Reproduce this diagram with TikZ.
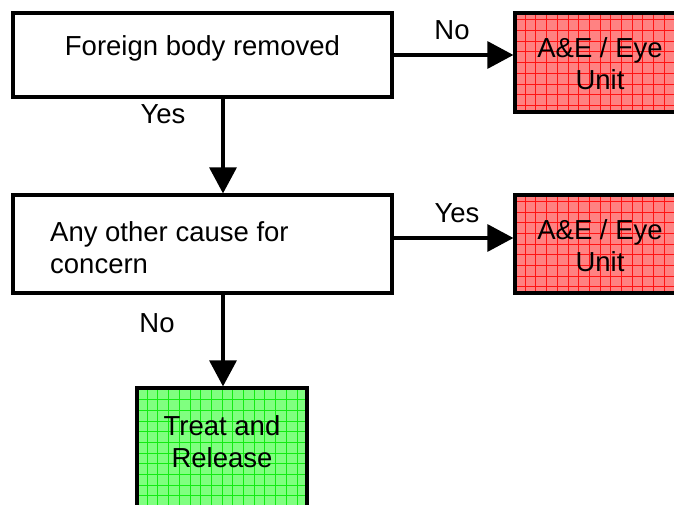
\documentclass[tikz,border=0pt]{standalone}
\usepackage{fontspec}
\setmainfont{Liberation Sans}
\usetikzlibrary{arrows.meta}
\definecolor{redfill}{RGB}{255,130,130}
\definecolor{redgrid}{RGB}{255,20,20}
\definecolor{greenfill}{RGB}{128,255,128}
\definecolor{greengrid}{RGB}{20,235,20}
\tikzset{
  box/.style={draw=black, line width=3.2pt, rectangle, inner sep=0pt},
  redbox/.style={box, fill=redfill, path picture={\draw[redgrid, line width=0.7pt, step=10.7pt] (path picture bounding box.south west) grid (path picture bounding box.north east);}},
  greenbox/.style={box, fill=greenfill, path picture={\draw[greengrid, line width=0.7pt, step=10.7pt] (path picture bounding box.south west) grid (path picture bounding box.north east);}},
  txt/.style={font=\fontsize{27.5}{32}\selectfont, inner sep=0pt},
  conn/.style={line width=3.2pt, -{Triangle[length=26pt,width=27pt]}}
}
\begin{document}
\begin{tikzpicture}[x=1pt,y=-1pt]
\clip (0,0) rectangle (674,504);
\fill[white] (0,0) rectangle (674,504);
% boxes
\node[box, minimum width=379pt, minimum height=84pt] (b1) at (202.5,55) {};
\node[box, minimum width=379pt, minimum height=98pt] (b2) at (202.5,244) {};
\node[redbox, minimum width=170pt, minimum height=99pt] (r1) at (600,62.5) {};
\node[redbox, minimum width=170pt, minimum height=98pt] (r2) at (600,244) {};
\node[greenbox, minimum width=170pt, minimum height=130pt] (g) at (222,453) {};
% texts
\node[txt] (t1) at (202.5,48) {Foreign body removed};
\node[txt, anchor=west, align=left] (t2) at (50,248) {Any other cause for\\concern};
\node[txt, align=center] (t3) at (600,64) {A\&E / Eye\\Unit};
\node[txt, align=center] (t4) at (600,246) {A\&E / Eye\\Unit};
\node[txt, align=center] (t5) at (222,442) {Treat and\\Release};
% connectors
\draw[conn] (b1.east) -- (b1.east -| r1.west);
\draw[conn] ([yshift=6pt]b2.east) -- ([yshift=6pt]b2.east -| r2.west);
\draw[conn] ([xshift=20.5pt]b1.south) -- ([xshift=20.5pt]b1.south |- b2.north);
\draw[conn] ([xshift=20.5pt]b2.south) -- ([xshift=20.5pt]b2.south |- g.north);
% labels
\node[txt] (l1) at (452,30) {No};
\node[txt] (l2) at (457,213) {Yes};
\node[txt] (l3) at (163,114) {Yes};
\node[txt] (l4) at (157,323) {No};
\end{tikzpicture}
\end{document}
